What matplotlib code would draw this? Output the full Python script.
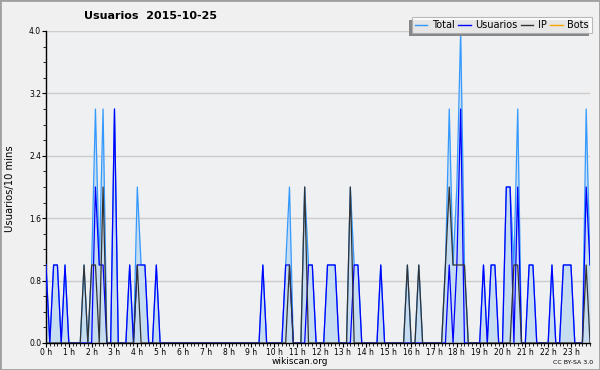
import matplotlib
matplotlib.use("Agg")
import matplotlib.pyplot as plt
from matplotlib.patches import Rectangle
import numpy as np

# 10-minute slots, 6 per hour (rows = hours 0..23)
usuarios = [
    1,0,1,1,0,1,
    0,0,0,0,0,0,
    0,2,1,1,0,0,
    3,0,0,0,1,0,
    1,1,1,0,0,1,
    0,0,0,0,0,0,
    0,0,0,0,0,0,
    0,0,0,0,0,0,
    0,0,0,0,0,0,
    0,0,0,1,0,0,
    0,0,0,1,1,0,
    0,0,0,1,1,0,
    0,0,1,1,1,0,
    0,0,0,1,1,0,
    0,0,0,0,1,0,
    0,0,0,0,0,0,
    0,0,0,0,0,0,
    0,0,0,0,1,0,
    1,3,0,0,0,0,
    0,1,0,1,1,0,
    0,2,2,0,2,0,
    0,1,1,0,0,0,
    0,1,0,0,1,1,
    1,0,0,0,2,1,
]
ip = [
    0,0,0,0,0,0,
    0,0,0,0,1,0,
    1,1,0,2,0,0,
    0,0,0,0,0,0,
    1,0,0,0,0,0,
    0,0,0,0,0,0,
    0,0,0,0,0,0,
    0,0,0,0,0,0,
    0,0,0,0,0,0,
    0,0,0,0,0,0,
    0,0,0,0,1,0,
    0,0,2,0,0,0,
    0,0,0,0,0,0,
    0,0,2,0,0,0,
    0,0,0,0,0,0,
    0,0,0,0,0,1,
    0,0,1,0,0,0,
    0,0,0,1,2,1,
    1,1,1,0,0,0,
    0,0,0,0,0,0,
    0,0,0,1,1,0,
    0,0,0,0,0,0,
    0,0,0,0,0,0,
    0,0,0,0,1,0,
]
total = [
    1,0,1,1,0,1,
    0,0,0,0,1,0,
    1,3,1,3,0,0,
    3,0,0,0,1,0,
    2,1,1,0,0,1,
    0,0,0,0,0,0,
    0,0,0,0,0,0,
    0,0,0,0,0,0,
    0,0,0,0,0,0,
    0,0,0,1,0,0,
    0,0,0,1,2,0,
    0,0,2,1,1,0,
    0,0,1,1,1,0,
    0,0,2,1,1,0,
    0,0,0,0,1,0,
    0,0,0,0,0,1,
    0,0,1,0,0,0,
    0,0,0,1,3,1,
    2,4,1,0,0,0,
    0,1,0,1,1,0,
    0,2,2,1,3,0,
    0,1,1,0,0,0,
    0,1,0,0,1,1,
    1,0,0,0,3,1,
]
bots = [0] * 144
hour_labels = [f"{h} h" for h in range(24)]
y_ticks = [0.0, 0.8, 1.6, 2.4, 3.2, 4.0]

x = np.arange(len(total))

fig = plt.figure(figsize=(6.0, 3.7), dpi=100)
fig.patch.set_facecolor("#f0f0f0")
ax = fig.add_axes([46/600, 27/370, 544/600, 312/370])
ax.set_facecolor("#eff0f1")

ax.fill_between(x, 0, total, color="#c6dcf0", lw=0, zorder=1)
ax.plot(x, bots, color="#ffa500", lw=0.9, zorder=2)
ax.plot(x, total, color="#3399ff", lw=0.9, zorder=3)
ax.plot(x, usuarios, color="#0000ff", lw=0.9, zorder=4)
ax.plot(x, ip, color="#333333", lw=0.9, zorder=5)

ax.set_xlim(0, 143)
ax.set_ylim(0, 4.0)
ax.set_yticks(y_ticks)
ax.set_yticklabels([f"{v:.1f}" for v in y_ticks])
ax.set_yticks(np.arange(0, 4.01, 0.2), minor=True)
ax.set_xticks(np.arange(0, 144, 6))
ax.set_xticklabels(hour_labels)
ax.set_xticks(np.arange(0, 144, 1), minor=True)

ax.grid(axis="y", which="major", color="#cccccc", lw=1, zorder=0)
ax.set_axisbelow(True)
for s in ["top", "right"]:
    ax.spines[s].set_visible(False)
for s in ["left", "bottom"]:
    ax.spines[s].set_color("black")
    ax.spines[s].set_linewidth(1)

ax.tick_params(axis="both", which="major", labelsize=5.5, length=3, width=0.8,
               color="black", pad=0.5)
ax.tick_params(axis="both", which="minor", length=2.2, width=0.6, color="black")

fig.text(151/600, 1 - 16/370, "Usuarios  2015-10-25", ha="center", va="center",
         fontsize=8, fontweight="bold")
fig.text(10/600, 1 - 189/370, "Usuarios/10 mins", rotation=90, ha="center",
         va="center", fontsize=7.2)
fig.text(300/600, 1 - 362/370, "wikiscan.org", ha="center", va="center",
         fontsize=6.5)
fig.text(593/600, 1 - 363/370, "CC BY-SA 3.0", ha="right", va="center",
         fontsize=4.5)

handles = [plt.Line2D([], [], color=c, lw=1) for c in
           ["#3399ff", "#0000ff", "#333333", "#ffa500"]]
leg = fig.legend(handles, ["Total", "Usuarios", "IP", "Bots"], ncol=4,
                 loc="upper right", bbox_to_anchor=(592/600, 1 - 17/370),
                 fontsize=7, frameon=True, fancybox=False,
                 handlelength=1.3, handletextpad=0.5, columnspacing=0.3,
                 borderpad=0.3, borderaxespad=0)
leg.get_frame().set_edgecolor("#aaaaaa")
leg.get_frame().set_facecolor("white")
leg.get_frame().set_linewidth(0.8)
leg.set_zorder(10)

fig.canvas.draw()
bb = leg.get_window_extent()
fig.add_artist(Rectangle((bb.x0 - 3, bb.y0 - 3), bb.width, bb.height,
                         transform=None, facecolor="#888888",
                         edgecolor="none", zorder=9))

fig.add_artist(Rectangle((0, 0), 1, 1, transform=fig.transFigure, fill=False,
                         edgecolor="#a0a0a0", lw=2))

fig.savefig("out.png", dpi=100, facecolor=fig.get_facecolor())
